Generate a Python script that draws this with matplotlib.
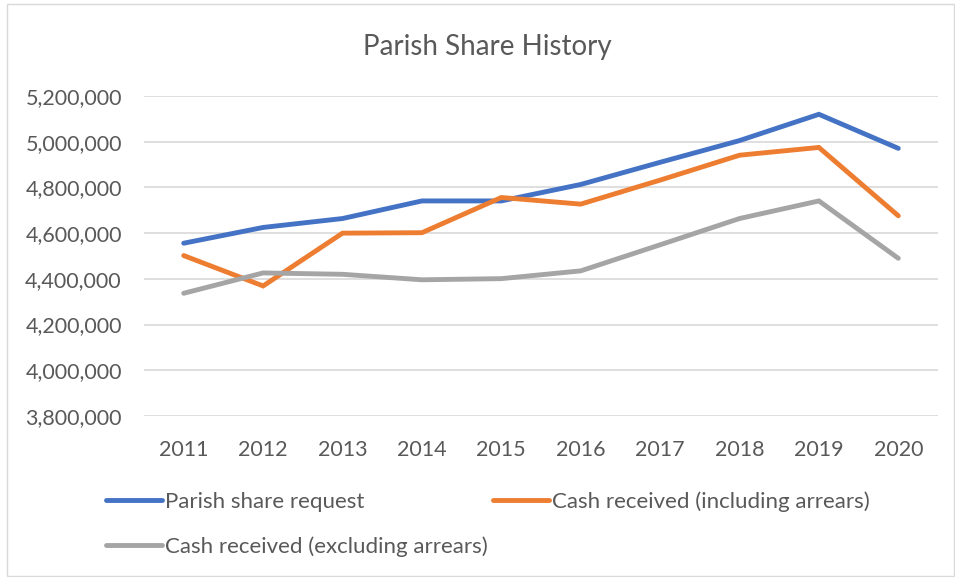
import matplotlib
matplotlib.use('Agg')
import matplotlib.pyplot as plt
from matplotlib.ticker import FuncFormatter
from matplotlib.patches import Rectangle

# data
years = ['2011', '2012', '2013', '2014', '2015', '2016', '2017', '2018', '2019', '2020']
share_request = [4556000, 4625000, 4664000, 4741000, 4741000, 4813000, 4910000, 5005000, 5120000, 4971000]
cash_incl = [4502000, 4369000, 4600000, 4602000, 4756000, 4727000, 4832000, 4941000, 4975000, 4676000]
cash_excl = [4337000, 4426000, 4420000, 4396000, 4401000, 4435000, 4549000, 4664000, 4741000, 4490000]
yticks = [3800000, 4000000, 4200000, 4400000, 4600000, 4800000, 5000000, 5200000]

plt.rcParams['font.family'] = ['Lato', 'DejaVu Sans']
txt = '#595959'

fig = plt.figure(figsize=(9.55, 5.77), dpi=100)
ax = fig.add_axes([0.1508, 0.279, 0.8314, 0.5546])

x = range(len(years))
l1, = ax.plot(x, share_request, color='#4472C4', lw=3.5, solid_capstyle='round', solid_joinstyle='miter',
              label='Parish share request', zorder=3)
l2, = ax.plot(x, cash_incl, color='#ED7D31', lw=3.5, solid_capstyle='round', solid_joinstyle='miter',
              label='Cash received (including arrears)', zorder=3)
l3, = ax.plot(x, cash_excl, color='#A5A5A5', lw=3.5, solid_capstyle='round', solid_joinstyle='miter',
              label='Cash received (excluding arrears)', zorder=3)

ax.set_xlim(-0.5, len(years) - 0.5)
ax.set_ylim(3800000, 5200000)
ax.set_xticks(list(x))
ax.set_xticklabels(years)
ax.set_yticks(yticks)
ax.yaxis.set_major_formatter(FuncFormatter(lambda v, p: f'{int(v):,}'))
ax.grid(axis='y', color='#D9D9D9', lw=1.2)
ax.set_axisbelow(True)
for s in ax.spines.values():
    s.set_visible(False)
ax.tick_params(axis='both', length=0, labelsize=15.5, labelcolor=txt)
ax.tick_params(axis='y', pad=16)
ax.tick_params(axis='x', pad=17)

fig.text(0.51, 0.919, 'Parish Share History', ha='center', va='center', fontsize=20,
         color=txt)

fig.legend(handles=[l1, l3, l2], loc='upper left', bbox_to_anchor=(0.111, 0.148),
           ncol=2, frameon=False, fontsize=16, labelcolor=txt, handlelength=2.5,
           handletextpad=0.15, columnspacing=0.25, borderaxespad=0, borderpad=0,
           labelspacing=1.07)

# chart border
fig.patches.append(Rectangle((7 / 955, 0.002), 1 - 8 / 955, 1 - 4 / 577 - 0.002,
                             transform=fig.transFigure, fill=False, ec='#D9D9D9', lw=1))

fig.savefig('out.png', dpi=100)
